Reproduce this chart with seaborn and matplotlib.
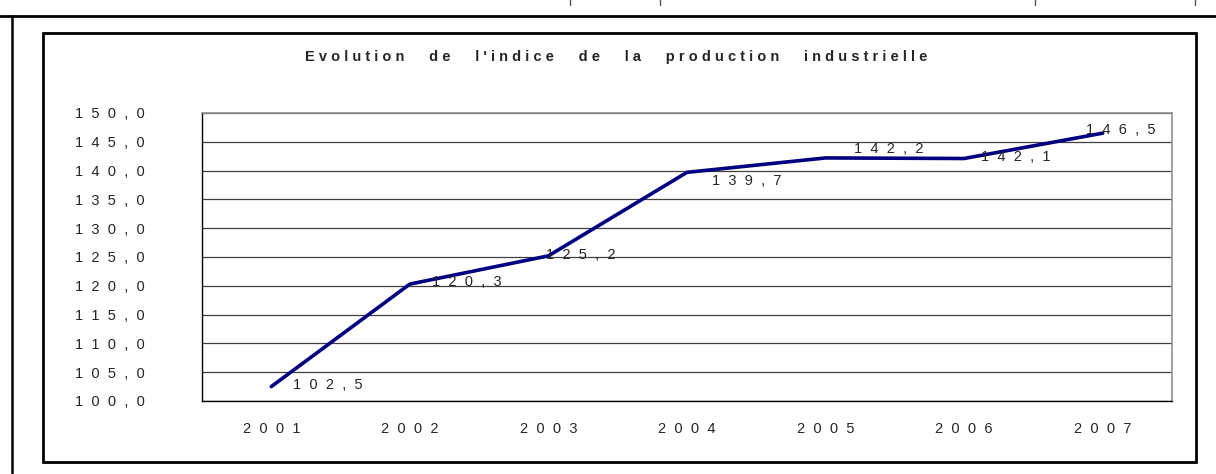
import seaborn as sns
import pandas as pd
import matplotlib.pyplot as plt
from matplotlib.lines import Line2D
from matplotlib.patches import Rectangle
import numpy as np

annees = ["2001", "2002", "2003", "2004", "2005", "2006", "2007"]
indice = [102.5, 120.3, 125.2, 139.7, 142.2, 142.1, 146.5]
titre = "Evolution de l'indice de la production industrielle"


def espacer(s, sep="  "):
    # Excel style: letters spread out
    return sep.join(s)


df = pd.DataFrame({"annee": annees, "indice": indice})
df["pos"] = range(len(df))

sns.set_style("white")
plt.rcParams["font.family"] = ["Liberation Sans", "DejaVu Sans"]

fig = plt.figure(figsize=(12.16, 4.74), dpi=100)
ax = fig.add_axes([202 / 1216, 73 / 474, 970 / 1216, 288 / 474])

sns.lineplot(data=df, x="pos", y="indice", color="#000080", linewidth=2.6, ax=ax)

fs = 10.5
ax.set_xlim(-0.5, 6.5)
ax.set_ylim(100, 150)
ax.set_yticks(np.arange(100, 151, 5))
ax.set_yticklabels([espacer(f"{v:.1f}".replace(".", ",")) for v in np.arange(100, 151, 5)],
                   fontsize=fs)
ax.set_xticks(np.arange(-0.5, 7, 1))
ax.set_xticklabels([])
ax.set_xticks(np.arange(7), minor=True)
ax.set_xticklabels([espacer(a) for a in annees], minor=True, fontsize=fs)
ax.tick_params(axis="x", which="major", length=4, width=1, direction="out", color="black")
ax.tick_params(axis="x", which="minor", length=0, pad=15)
ax.tick_params(axis="y", length=7, width=1, direction="out", color="black", pad=34)
ax.set_xlabel("")
ax.set_ylabel("")

ax.yaxis.grid(True, color="#404040", linewidth=0.9)
ax.xaxis.grid(False)
for side in ["left", "bottom"]:
    ax.spines[side].set_color("black")
    ax.spines[side].set_linewidth(1)
for side in ["top", "right"]:
    ax.spines[side].set_color("#909090")
    ax.spines[side].set_linewidth(1.2)

# data labels, offsets in pixels from the point
dx = [22, 22, -2, 25, 28, 17, -17]
dy = [2, 2, 1, -9, 9, 2, 3]
for p, v, ox, oy in zip(df["pos"], df["indice"], dx, dy):
    ax.annotate(espacer(f"{v:.1f}".replace(".", ",")), (p, v), xytext=(ox * 0.72, oy * 0.72),
                textcoords="offset points", ha="left", va="center", fontsize=fs)

titre_esp = "      ".join(espacer(m, " ") for m in titre.split(" "))
fig.text(616 / 1216, 1 - 57 / 474, titre_esp, ha="center", va="center",
         fontsize=10.5, fontweight="bold")

# cadres
fig.add_artist(Rectangle((43 / 1216, 1 - 462 / 474), (1196 - 43) / 1216, (462 - 33) / 474,
                         transform=fig.transFigure, fill=False, edgecolor="black", linewidth=2))
fig.add_artist(Line2D([0, 1], [1 - 16 / 474, 1 - 16 / 474], transform=fig.transFigure,
                      color="black", linewidth=2))
fig.add_artist(Line2D([12 / 1216, 12 / 1216], [1 - 16 / 474, 1 / 474], transform=fig.transFigure,
                      color="black", linewidth=1.8))
for xm in [570, 660, 1035, 1195]:
    fig.add_artist(Line2D([xm / 1216, xm / 1216], [1, 1 - 5 / 474], transform=fig.transFigure,
                          color="#555555", linewidth=1))

fig.savefig("out.png", dpi=100)
